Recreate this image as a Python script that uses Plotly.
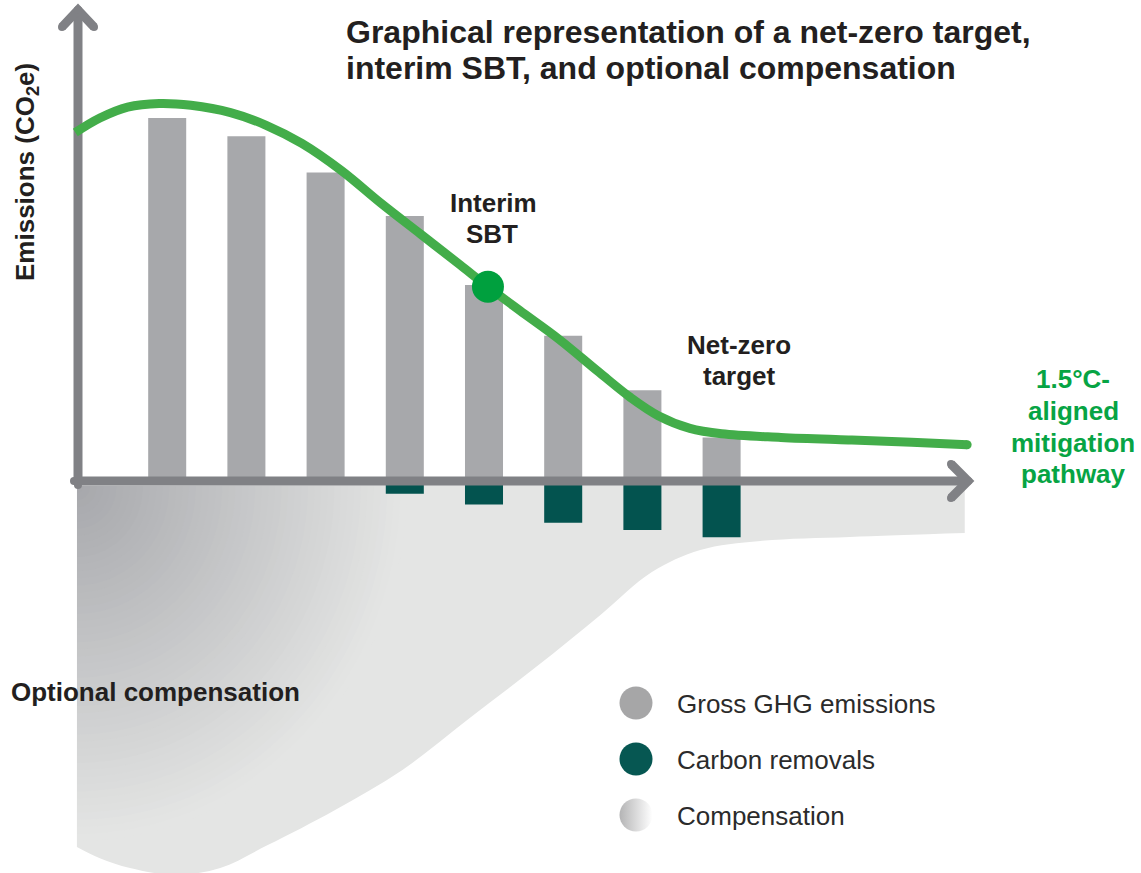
import numpy as np
import plotly.graph_objects as go

# ---------------------------------------------------------------------------
# Data
# ---------------------------------------------------------------------------
periods = [1, 2, 3, 4, 5, 6, 7, 8]
gross_emissions = [100, 95, 85, 73, 54, 40, 25, 12]
carbon_removals = [0, 0, 0, -3.5, -6.5, -11.5, -13.5, -15.5]

# 1.5°C-aligned mitigation pathway
pathway_x = [-0.16, 0.15, 0.5, 0.9, 1.3, 1.8, 2.25, 2.7, 3.2, 3.7, 4.2, 4.7,
             5.05, 5.45, 5.95, 6.45, 6.85, 7.2, 7.6, 8.0, 8.75, 9.6, 10.4, 11.1]
pathway_y = [96, 100, 103, 104, 103.5, 101.5, 98, 93, 85.5, 76.5, 68, 59.5,
             53.5, 47, 39, 30, 23, 18, 14.5, 13, 12, 11.3, 10.7, 10]

interim_sbt_x = 5.05
interim_sbt_y = 53.5

# lower edge of the optional compensation band
compensation_x = [-0.14, 0.15, 0.53, 1.1, 1.67, 2.27, 3.12, 3.97, 4.82,
                  5.66, 6.47, 7.12, 7.73, 8.49, 9.62, 11.07]
compensation_floor = [-100.8, -103.9, -106.6, -108.5, -106.6, -100.3, -90.6,
                      -79.6, -65.3, -51.2, -36.9, -25.1, -19.0, -16.5, -15.4,
                      -14.3]

legend_labels = ["Gross GHG emissions", "Carbon removals", "Compensation"]

# ---------------------------------------------------------------------------
# Canvas geometry and styling
# ---------------------------------------------------------------------------
W, H = 1141, 873
X_PX0, X_SCALE = 88.0, 79.2      # pixel of period 0, pixels per period
Y_PX0, Y_SCALE = 481.0, 3.63     # pixel of zero emissions, pixels per unit

x_range = [(0 - X_PX0) / X_SCALE, (W - X_PX0) / X_SCALE]
y_range = [(Y_PX0 - H) / Y_SCALE, Y_PX0 / Y_SCALE]


def dx(px):
    return (px - X_PX0) / X_SCALE


def dy(py):
    return (Y_PX0 - py) / Y_SCALE


FONT = "Liberation Sans, Arial, Helvetica, sans-serif"
TEXT = "#231f20"
GREEN_LINE = "#43ad4a"
GREEN_DOT = "#00a03e"
GREEN_TEXT = "#07a444"
BAR_GREY = "#a7a8ab"
TEAL = "#03534f"
AXIS_GREY = "#808185"
BAND = (228, 229, 228)
BAND_DARK = (166, 167, 171)

fig = go.Figure()

# ---------------------------------------------------------------------------
# Compensation band (bottom layer, subplot x/y)
# ---------------------------------------------------------------------------
band_left, band_right = compensation_x[0], compensation_x[-1]
fig.add_trace(go.Scatter(
    x=[band_left, band_right], y=[0, 0], mode="lines",
    line=dict(width=0), hoverinfo="skip", xaxis="x", yaxis="y"))
fig.add_trace(go.Scatter(
    x=compensation_x, y=compensation_floor, mode="lines",
    line=dict(width=0, shape="spline", smoothing=1.0),
    fill="tonexty", fillcolor="rgb(%d,%d,%d)" % BAND,
    hoverinfo="skip", xaxis="x", yaxis="y"))

# shaded corner: nested quarter-ellipses stepping from band colour to dark grey
cx_px, cy_px = 77.0, 486.0
rx_px, ry_px = 330.0, 355.0
n_layers = 50
theta = np.linspace(0, np.pi / 2, 48)
for k in range(n_layers, 0, -1):
    r = k / n_layers
    col = tuple(int(round(d + (b - d) * r)) for d, b in zip(BAND_DARK, BAND))
    arc_x = cx_px + rx_px * r * np.cos(theta)
    arc_y = cy_px + ry_px * r * np.sin(theta)
    xs = [dx(cx_px)] + [dx(v) for v in arc_x] + [dx(cx_px)]
    ys = [dy(cy_px)] + [dy(v) for v in arc_y] + [dy(cy_px)]
    fig.add_trace(go.Scatter(
        x=xs, y=ys, mode="lines", line=dict(width=0), fill="toself",
        fillcolor="rgb(%d,%d,%d)" % col, hoverinfo="skip",
        xaxis="x", yaxis="y"))

# ---------------------------------------------------------------------------
# Bars, axes and pathway (overlay subplot x2/y2)
# ---------------------------------------------------------------------------
fig.add_trace(go.Bar(
    x=periods, y=gross_emissions, width=0.48, marker=dict(color=BAR_GREY, line=dict(width=0)),
    hoverinfo="skip", xaxis="x2", yaxis="y2"))
fig.add_trace(go.Bar(
    x=periods, y=carbon_removals, width=0.48, marker=dict(color=TEAL, line=dict(width=0)),
    hoverinfo="skip", xaxis="x2", yaxis="y2"))

AXIS_W = 9
axis_style = dict(mode="lines+markers", line=dict(color=AXIS_GREY, width=AXIS_W),
                  marker=dict(color=AXIS_GREY, size=AXIS_W - 1),
                  hoverinfo="skip", xaxis="x2", yaxis="y2")
# vertical axis with chevron head
fig.add_trace(go.Scatter(x=[dx(78), dx(78)], y=[dy(485), dy(10)], **axis_style))
fig.add_trace(go.Scatter(x=[dx(62), dx(78), dx(94)], y=[dy(27), dy(10), dy(27)], **axis_style))
# horizontal axis with chevron head
fig.add_trace(go.Scatter(x=[dx(74), dx(968)], y=[0, 0], **axis_style))
fig.add_trace(go.Scatter(x=[dx(951), dx(968), dx(951)], y=[dy(464), 0, dy(498)], **axis_style))

fig.add_trace(go.Scatter(
    x=pathway_x, y=pathway_y, mode="lines",
    line=dict(color=GREEN_LINE, width=9, shape="spline", smoothing=1.0),
    hoverinfo="skip", xaxis="x2", yaxis="y2"))
fig.add_trace(go.Scatter(
    x=[pathway_x[-1]], y=[pathway_y[-1]], mode="markers",
    marker=dict(color=GREEN_LINE, size=9), hoverinfo="skip", xaxis="x2", yaxis="y2"))
fig.add_trace(go.Scatter(
    x=[interim_sbt_x], y=[interim_sbt_y], mode="markers",
    marker=dict(color=GREEN_DOT, size=32, line=dict(width=0)),
    hoverinfo="skip", xaxis="x2", yaxis="y2"))

# ---------------------------------------------------------------------------
# Legend symbols (pixel overlay x3/y3)
# ---------------------------------------------------------------------------
legend_px_x = 636
legend_px_y = [703, 759, 815]
fig.add_trace(go.Scatter(
    x=[legend_px_x, legend_px_x], y=legend_px_y[:2], mode="markers",
    marker=dict(color=["#a6a6a7", "#065752"], size=33, line=dict(width=0)),
    hoverinfo="skip", xaxis="x3", yaxis="y3"))
fig.add_trace(go.Scatter(
    x=[legend_px_x], y=[legend_px_y[2]], mode="markers",
    marker=dict(color="#b4b4b5", size=33, line=dict(width=0),
                gradient=dict(type="horizontal", color="#ffffff")),
    hoverinfo="skip", xaxis="x3", yaxis="y3"))

# ---------------------------------------------------------------------------
# Text
# ---------------------------------------------------------------------------
def text_line(s, x_px, base_px, size, color=TEXT, weight="bold", anchor="left"):
    yc = base_px - 0.3465 * size
    return dict(text=s, x=x_px / W, y=1 - yc / H, xref="paper", yref="paper",
                xanchor=anchor, yanchor="middle", showarrow=False,
                font=dict(family=FONT, size=size, color=color, weight=weight))


annotations = [
    text_line("Graphical representation of a net-zero target,", 344, 43, 32),
    text_line("interim SBT, and optional compensation", 344, 79, 32),
    text_line("Interim", 493, 212, 26, anchor="center"),
    text_line("SBT", 492, 243, 26, anchor="center"),
    text_line("Net-zero", 739, 354, 26, anchor="center"),
    text_line("target", 739, 385, 26, anchor="center"),
    text_line("1.5°C-", 1073, 388, 26, GREEN_TEXT, anchor="center"),
    text_line("aligned", 1073, 420, 26, GREEN_TEXT, anchor="center"),
    text_line("mitigation", 1073, 452, 26, GREEN_TEXT, anchor="center"),
    text_line("pathway", 1073, 483, 26, GREEN_TEXT, anchor="center"),
    text_line("Optional compensation", 9, 701, 26),
]
for lbl, base in zip(legend_labels, [713, 769, 825]):
    annotations.append(text_line(lbl, 675, base, 26, "#2b2b2b", weight="normal"))

annotations.append(dict(
    text="Emissions (CO<sub>2</sub>e)", textangle=-90,
    x=27 / W, y=1 - 172 / H, xref="paper", yref="paper",
    xanchor="center", yanchor="middle", showarrow=False,
    font=dict(family=FONT, size=26, color=TEXT, weight="bold")))

hidden = dict(visible=False, fixedrange=True)
fig.update_layout(
    width=W, height=H, margin=dict(l=0, r=0, t=0, b=0, pad=0),
    paper_bgcolor="white", plot_bgcolor="white", showlegend=False,
    barmode="overlay", annotations=annotations,
    xaxis=dict(range=x_range, **hidden),
    yaxis=dict(range=y_range, **hidden),
    xaxis2=dict(range=x_range, overlaying="x", **hidden),
    yaxis2=dict(range=y_range, overlaying="y", **hidden),
    xaxis3=dict(range=[0, W], overlaying="x", **hidden),
    yaxis3=dict(range=[H, 0], overlaying="y", **hidden),
)

fig.write_html("out.html", config={"displayModeBar": False, "staticPlot": True},
               post_script="document.body.style.margin='0';")
